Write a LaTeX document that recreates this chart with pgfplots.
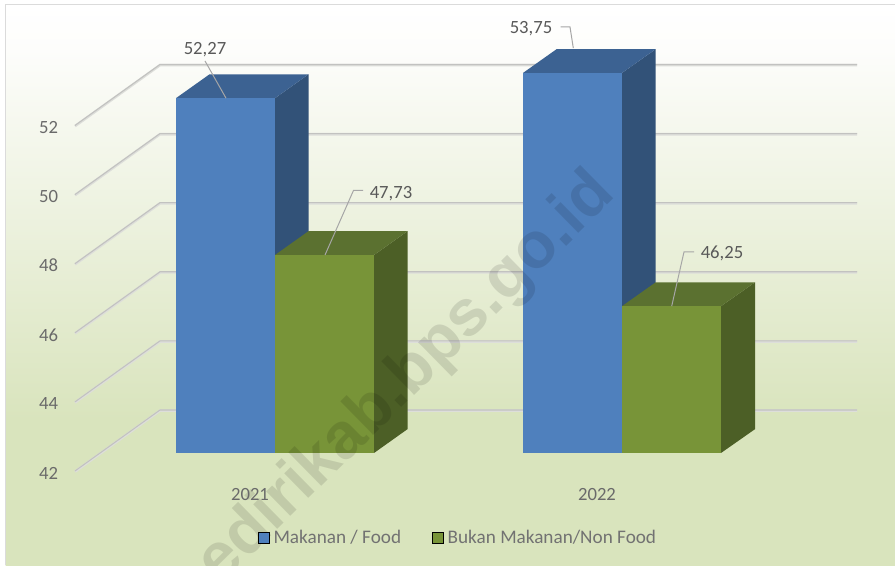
\documentclass[border=0pt]{standalone}
\usepackage{pgfplots}
\pgfplotsset{compat=1.18}
\usepackage{fontspec}
\setmainfont{Carlito}
\newfontfamily\wmfont{Liberation Sans}
\definecolor{bluef}{HTML}{4F80BD}
\definecolor{bluet}{HTML}{3C6292}
\definecolor{blues}{HTML}{325278}
\definecolor{greenf}{HTML}{789438}
\definecolor{greent}{HTML}{5B7130}
\definecolor{greens}{HTML}{4C5F26}
\definecolor{txt}{HTML}{595959}
\definecolor{gridm}{HTML}{C2C2C0}
\definecolor{grids}{HTML}{DDDEDA}
\definecolor{leader}{HTML}{A6A6A6}
\definecolor{bgb}{HTML}{D9E4BD}
\definecolor{bgt}{HTML}{FDFDFB}
\pgfdeclareverticalshading{chartbg}{100bp}{%
  color(0bp)=(bgb);
  color(38bp)=(bgb);
  color(71bp)=(bgt);
  color(75bp)=(white);
  color(100bp)=(white)}
\begin{document}
\begin{tikzpicture}
\begin{axis}[
  name=ax,
  axis on top,
  scale only axis,
  width=671.25pt,
  height=423.75pt,
  xmin=0, xmax=895,
  ymin=38.758, ymax=55.111,
  clip=false,
  axis line style={draw=none},
  major tick length=0pt,
  tick style={draw=none},
  xtick={250,597},
  xticklabels={2021,2022},
  ytick={42,44,46,48,50,52},
  yticklabels={42,44,46,48,50,52},
  /pgf/number format/assume math mode=true,
  tick label style={font=\fontsize{14}{16}\selectfont, text=txt!90!white},
  xticklabel style={anchor=center, yshift=52.5pt},
  yticklabel style={anchor=center, xshift=36.4pt, yshift=-15pt},
  legend columns=2,
  legend style={
    draw=none, fill=none,
    at={(axis cs:258,38.758)}, anchor=south west, yshift=12.5pt,
    font=\fontsize{14.4}{16}\selectfont, text=txt!85!white,
    /tikz/every odd column/.append style={column sep=1pt},
    /tikz/every even column/.append style={column sep=21.3pt},
    inner sep=0pt, outer sep=0pt
  },
  legend image code/.code={\fill[#1] (0pt,-4.1pt) rectangle (8.25pt,4.1pt);},
]
% chart background and frame
\path[shading=chartbg] (axis cs:5.5,38.758) rectangle (axis cs:895,54.981);
\draw[color=black!14, line width=0.75pt] (axis cs:5.5,38.758) -- (axis cs:5.5,54.981) -- (axis cs:895,54.981);

% gridlines on floor-side wall and back wall (value, shown in perspective)
\pgfplotstableread{
x y42 y44 y46 y48 y50 y52
75 41.48 43.48 45.48 47.48 49.48 51.48
160 43.245 45.245 47.245 49.245 51.245 53.245
857 43.245 45.245 47.245 49.245 51.245 53.245
}\gridtab
\foreach \c in {y42,y44,y46,y48,y50,y52}{
  \edef\tmp{\noexpand\addplot[forget plot, color=grids, line width=1.9pt, yshift=-0.5pt] table[x=x,y=\c]{\noexpand\gridtab};
  \noexpand\addplot[forget plot, color=gridm, line width=0.8pt] table[x=x,y=\c]{\noexpand\gridtab};}
  \tmp
}

% 2021 Makanan
\addplot[forget plot, fill=blues, draw=none] coordinates {(275,42) (308.5,42.69) (308.5,52.96) (275,52.27)} -- cycle;
\addplot[forget plot, fill=bluet, draw=none] coordinates {(176,52.27) (209.5,52.96) (308.5,52.96) (275,52.27)} -- cycle;
\addplot[forget plot, fill=bluef, draw=none] coordinates {(176,42) (275,42) (275,52.27) (176,52.27)} -- cycle;
% 2021 Bukan Makanan
\addplot[forget plot, fill=greens, draw=none] coordinates {(374,42) (407.5,42.69) (407.5,48.42) (374,47.73)} -- cycle;
\addplot[forget plot, fill=greent, draw=none] coordinates {(275,47.73) (308.5,48.42) (407.5,48.42) (374,47.73)} -- cycle;
\addplot[forget plot, fill=greenf, draw=none] coordinates {(275,42) (374,42) (374,47.73) (275,47.73)} -- cycle;
% 2022 Makanan (53,75 is cut off at the axis maximum 53)
\addplot[forget plot, fill=blues, draw=none] coordinates {(622,42) (655.7,42.69) (655.7,53.69) (622,53)} -- cycle;
\addplot[forget plot, fill=bluet, draw=none] coordinates {(523,53) (556.7,53.69) (655.7,53.69) (622,53)} -- cycle;
\addplot[forget plot, fill=bluef, draw=none] coordinates {(523,42) (622,42) (622,53) (523,53)} -- cycle;
% 2022 Bukan Makanan
\addplot[forget plot, fill=greens, draw=none] coordinates {(721,42) (755,42.69) (755,46.94) (721,46.25)} -- cycle;
\addplot[forget plot, fill=greent, draw=none] coordinates {(622,46.25) (655.7,46.94) (755,46.94) (721,46.25)} -- cycle;
\addplot[forget plot, fill=greenf, draw=none] coordinates {(622,42) (721,42) (721,46.25) (622,46.25)} -- cycle;

% leader lines
\addplot[forget plot, color=leader, line width=0.75pt] coordinates {(226,52.27) (205,53.346)};
\addplot[forget plot, color=leader, line width=0.75pt] coordinates {(325,47.73) (353.5,49.6) (363,49.6)};
\addplot[forget plot, color=leader, line width=0.75pt] coordinates {(573.3,53.72) (570,54.33) (560.7,54.33)};
\addplot[forget plot, color=leader, line width=0.75pt] coordinates {(671.7,46.25) (684,47.82) (694,47.82)};

% data labels
\node[font=\fontsize{14}{16}\selectfont, text=txt] at (axis cs:205,53.66) {52,27};
\node[font=\fontsize{14}{16}\selectfont, text=txt] at (axis cs:391,49.52) {47,73};
\node[font=\fontsize{14}{16}\selectfont, text=txt] at (axis cs:531,54.29) {53,75};
\node[font=\fontsize{14}{16}\selectfont, text=txt] at (axis cs:722,47.78) {46,25};

\addlegendimage{fill=bluef}
\addlegendentry{Makanan / Food}
\addlegendimage{fill=greenf}
\addlegendentry{Bukan Makanan/Non Food}

% watermark
\node[overlay, rotate=44.5, font=\wmfont\bfseries\fontsize{48.7}{50}\selectfont, text=black, text opacity=0.11] at (axis cs:407.2,44.145) {edirikab.bps.go.id};
\end{axis}
\pgfresetboundingbox
\useasboundingbox (ax.south west) rectangle (ax.north east);
\end{tikzpicture}
\end{document}
